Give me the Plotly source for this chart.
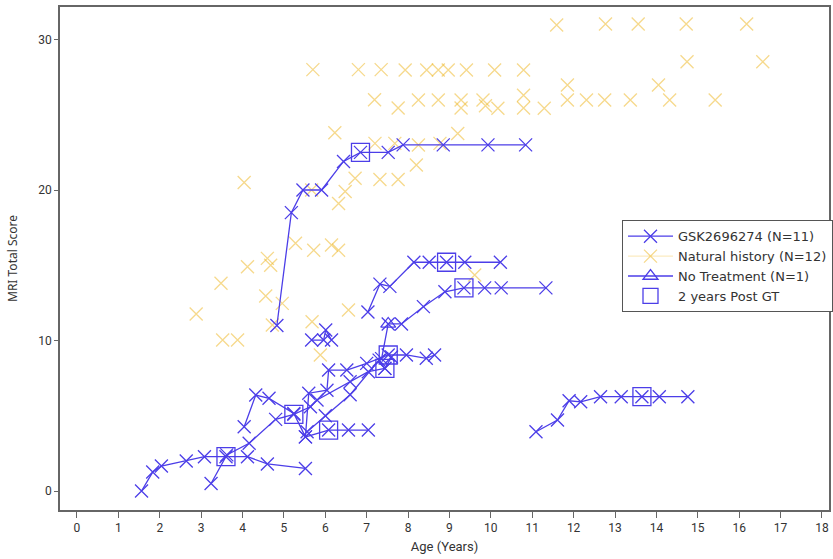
import plotly.graph_objects as go

# ---- GSK2696274 patients (age in years, MRI total score) ----
gsk_ages = [
    [4.83, 5.18, 5.46, 5.91, 6.44, 6.85, 7.52, 7.88, 8.85, 9.93, 10.84],
    [7.03, 7.32, 7.56, 8.14, 8.51, 8.93, 9.37, 10.23],
    [7.36, 7.52, 7.84, 8.37, 8.89, 9.35, 9.85, 10.25, 11.33],
    [11.09, 11.61, 11.89, 12.17, 12.65, 13.15, 13.65, 14.07, 14.76],
    [1.56, 1.83, 2.04, 2.64, 3.08, 3.60, 4.12, 4.60, 5.52],
    [3.24, 3.62, 4.16, 4.80, 5.24, 5.64, 5.80, 6.60, 7.04, 7.44],
    [4.04, 4.32, 4.64, 5.24, 5.52, 6.08, 6.56, 7.04],
    [5.52, 5.60, 6.04, 6.08, 6.52, 7.00, 7.52, 7.96, 8.44, 8.64],
    [5.56, 6.00, 6.60, 7.30, 7.44, 7.60],
    [5.67, 5.96, 6.01, 6.15],
]
gsk_scores = [
    [11.0, 18.5, 20.0, 20.0, 21.9, 22.5, 22.5, 23.0, 23.0, 23.0, 23.0],
    [11.9, 13.75, 13.6, 15.2, 15.2, 15.2, 15.2, 15.2],
    [8.8, 11.1, 11.1, 12.25, 13.24, 13.5, 13.5, 13.5, 13.5],
    [3.94, 4.72, 6.0, 5.93, 6.27, 6.27, 6.27, 6.27, 6.27],
    [0.0, 1.26, 1.66, 2.0, 2.28, 2.28, 2.28, 1.8, 1.5],
    [0.5, 2.4, 3.17, 4.76, 5.1, 5.6, 6.05, 7.26, 7.93, 8.15],
    [4.27, 6.38, 6.16, 5.16, 3.6, 4.05, 4.05, 4.05],
    [3.6, 6.5, 6.7, 8.04, 8.04, 8.48, 9.04, 9.04, 8.82, 9.04],
    [3.94, 5.0, 6.4, 8.7, 8.15, 8.9],
    [10.03, 10.03, 10.7, 10.03],
]

# ---- 2 years post GT markers ----
post_ages = [3.60, 5.24, 6.08, 6.85, 7.44, 7.52, 8.93, 9.35, 13.65]
post_scores = [2.28, 5.1, 4.05, 22.5, 8.15, 9.04, 15.2, 13.5, 6.27]

# ---- No treatment ----
nt_ages = [7.52]
nt_scores = [11.1]

# ---- Natural history ----
nh_ages = [2.88, 3.48, 3.52, 3.88, 4.04, 4.12, 4.56, 4.60, 4.68, 4.72, 4.96,
           5.28, 5.72, 6.15, 6.32, 5.68, 5.88, 6.56, 5.67, 6.32, 6.48, 6.72,
           7.32, 7.76, 8.20, 7.20, 7.68, 6.23, 8.25, 8.77, 9.20, 9.61, 7.76,
           7.19, 8.25, 8.73, 9.28, 9.28, 9.81, 9.87, 10.17, 10.79, 10.79,
           11.29, 11.85, 12.31, 12.75, 13.37, 14.32, 15.42, 11.85, 14.05,
           5.70, 6.80, 7.35, 7.93, 8.45, 8.73, 8.97, 9.41, 10.09, 10.79,
           14.74, 16.57, 11.59, 12.77, 13.56, 14.72, 16.18]
nh_scores = [11.76, 13.8, 10.03, 10.03, 20.5, 14.9, 12.96, 15.46, 15.0, 11.03, 12.47,
             16.46, 16.0, 16.35, 16.0, 11.25, 9.04, 12.03, 20.0, 19.1, 19.9, 20.78,
             20.7, 20.7, 21.66, 23.1, 23.1, 23.8, 22.99, 23.1, 23.76, 14.35, 25.45,
             26.0, 25.98, 25.98, 25.98, 25.45, 25.98, 25.6, 25.43, 26.3, 25.45,
             25.43, 25.98, 25.98, 25.98, 25.98, 25.98, 25.98, 26.98, 26.98,
             28.0, 28.0, 28.0, 27.97, 27.97, 27.97, 27.97, 27.97, 27.97, 27.97,
             28.52, 28.52, 30.96, 31.03, 31.03, 31.03, 31.03]

x_ticks = list(range(0, 19))
y_ticks = [0, 10, 20, 30]

BLUE = "rgb(76,62,232)"
GOLD = "rgba(238,185,45,0.55)"

def xmark(color, size=13):
    return dict(symbol="x-thin-open", size=size, color=color, line=dict(color=color, width=1.3))

fig = go.Figure()

fig.add_trace(go.Scatter(
    x=nh_ages, y=nh_scores, mode="markers", showlegend=False,
    marker=xmark(GOLD), hoverinfo="skip"))

for xa, ya in zip(gsk_ages, gsk_scores):
    fig.add_trace(go.Scatter(
        x=xa, y=ya, mode="lines+markers", showlegend=False,
        line=dict(color=BLUE, width=1.3), marker=xmark(BLUE)))

fig.add_trace(go.Scatter(
    x=post_ages, y=post_scores, mode="markers", showlegend=False,
    marker=dict(symbol="square-open", size=18, color=BLUE, line=dict(color=BLUE, width=1.3))))

fig.add_trace(go.Scatter(
    x=nt_ages, y=nt_scores, mode="markers", showlegend=False,
    marker=dict(symbol="triangle-up-open", size=13, color=BLUE, line=dict(color=BLUE, width=1.3))))

# legend entries
fig.add_trace(go.Scatter(x=[None], y=[None], mode="lines+markers", name="GSK2696274 (N=11)",
                         line=dict(color=BLUE, width=1.3), marker=xmark(BLUE)))
fig.add_trace(go.Scatter(x=[None], y=[None], mode="lines+markers", name="Natural history (N=12)",
                         line=dict(color="rgba(238,185,45,0.3)", width=1.3), marker=xmark(GOLD)))
fig.add_trace(go.Scatter(x=[None], y=[None], mode="lines+markers", name="No Treatment (N=1)",
                         line=dict(color=BLUE, width=1.3),
                         marker=dict(symbol="triangle-up-open", size=13, color=BLUE, line=dict(color=BLUE, width=1.3))))
fig.add_trace(go.Scatter(x=[None], y=[None], mode="markers", name="2 years Post GT",
                         marker=dict(symbol="square-open", size=15, color=BLUE, line=dict(color=BLUE, width=1.3))))

axis_font = dict(family="Liberation Sans Narrow, Roboto, sans-serif", size=12, color="#333")

fig.update_layout(
    width=833, height=559,
    margin=dict(l=60, r=0, t=7, b=49),
    plot_bgcolor="white", paper_bgcolor="white",
    showlegend=True,
    legend=dict(x=0.731, y=0.576, xanchor="left", yanchor="top",
                bgcolor="white", bordercolor="#555", borderwidth=1,
                font=dict(family="DejaVu Sans, sans-serif", size=13, color="#333"),
                itemwidth=45, tracegroupgap=0),
    xaxis=dict(range=[-0.41, 18.17], tickvals=x_ticks, ticktext=[str(v) for v in x_ticks],
               showgrid=False, zeroline=False, showline=True, linecolor="#666", linewidth=1.5,
               mirror=True, ticks="outside", ticklen=6, tickcolor="#666",
               tickfont=axis_font,
               title=dict(text="Age (Years)", font=dict(family="Liberation Sans Narrow, Roboto, sans-serif", size=13, color="#333"), standoff=8)),
    yaxis=dict(range=[-1.26, 32.16], tickvals=y_ticks, ticktext=[str(v) for v in y_ticks],
               showgrid=False, zeroline=False, showline=True, linecolor="#666", linewidth=1.5,
               mirror=True, ticks="outside", ticklen=4, tickcolor="#666",
               tickfont=axis_font,
               title=dict(text="MRI Total Score", font=dict(family="Noto Sans, sans-serif", size=12, color="#333"), standoff=18)),
)

fig.write_html("out.html", config={"displayModeBar": False},
               post_script="document.body.style.margin='0px';document.body.style.overflow='hidden';")
